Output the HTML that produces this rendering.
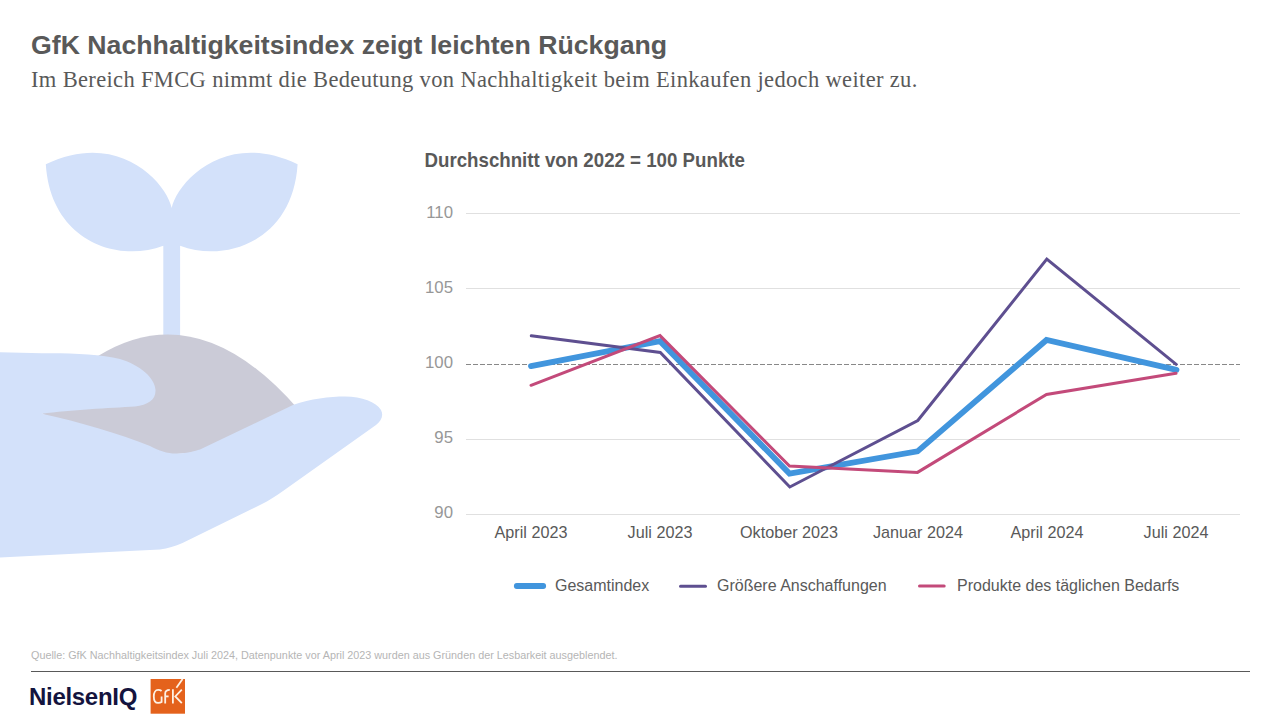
<!DOCTYPE html>
<html><head><meta charset="utf-8">
<style>
html,body{margin:0;padding:0;background:#fff;}
body{width:1280px;height:720px;position:relative;overflow:hidden;font-family:"Liberation Sans",sans-serif;}
.t{position:absolute;white-space:nowrap;line-height:1;}
#title{left:31px;top:32px;font-size:26.7px;font-weight:bold;color:#595959;}
#sub{left:31px;top:68.5px;font-size:22.5px;font-family:"Liberation Serif",serif;color:#595959;letter-spacing:0.345px;}
#ctitle{left:424.5px;top:150.5px;font-size:18.7px;transform-origin:0 0;transform:scaleY(1.06);font-weight:bold;color:#595959;}
.yl{position:absolute;font-size:16.8px;color:#979797;text-align:right;width:60px;line-height:1;}
.xl{position:absolute;font-size:16.2px;color:#595959;text-align:center;width:160px;line-height:1;}
.lg{position:absolute;font-size:16px;color:#595959;line-height:1;white-space:nowrap;}
#src{left:31px;top:650px;font-size:10.8px;color:#b5b5b5;}
</style></head>
<body>
<svg width="1280" height="720" style="position:absolute;left:0;top:0">
  <!-- plant -->
  <path fill="#d3e1fa" d="M45.8,164.2 C118.55,129.2 166.6,182.7 171.7,208 C176.8,182.7 224.85,129.2 297.6,164.2 C292.94,239.7 227.45,263.4 180.1,245.8 L180.1,340 L163.3,340 L163.3,245.8 C115.95,263.4 50.46,239.7 45.8,164.2 Z"/>
  <path d="M98,356 Q198,294.4 298,409 L200,452 L165,455 L42,414 Z" fill="#cbcbd7"/>
  <path fill="#d3e1fa" d="M0,352.3 L41.7,353.3 C70,353 100,354 120,359 C140,365 155,378 155.5,390 C156,400 148,405 135,406.5 C110,408 70,410 41.7,413.75 C80,422 120,434 150,446 C160,451 168,454 178,453.5 C188,453 195,451 200,449.5 L293.5,404.7 C310,399 330,396.5 345,396.5 C362,396.5 376,402 381,410 C384,416 381,421 376,425 L283,491 C276,496 268,501 262,504 L182.5,543 C175,546 168,548.5 160,549.5 L93.75,552.8 L0,557.5 Z"/>
  <!-- grid -->
  <g stroke="#e0e0e0" stroke-width="1">
    <line x1="466" y1="213.5" x2="1240" y2="213.5"/>
    <line x1="466" y1="288.5" x2="1240" y2="288.5"/>
    <line x1="466" y1="439.5" x2="1240" y2="439.5"/>
    <line x1="466" y1="514.5" x2="1240" y2="514.5"/>
  </g>
  <line x1="466" y1="364.5" x2="1240" y2="364.5" stroke="#888888" stroke-width="1" stroke-dasharray="5,2"/>
  <!-- series -->
  <polyline fill="none" stroke="#4195dd" stroke-width="5.8" stroke-linecap="round" stroke-linejoin="miter" points="531,366.1 660,341.1 789.5,473.6 917.5,451.4 1046.5,340 1176.5,369.9"/>
  <polyline fill="none" stroke="#5e4f90" stroke-width="3" stroke-linecap="round" points="531.3,335.8 660.3,352.5 789.8,487 917.8,420.5 1046.8,259 1176.2,364.3"/>
  <polyline fill="none" stroke="#c34a7a" stroke-width="3" stroke-linecap="round" points="531,385.3 660,335.6 789.5,466 917.5,472.4 1046.5,394.4 1176,373.3"/>
  <!-- legend lines -->
  <line x1="516.8" y1="586" x2="543.2" y2="586" stroke="#4195dd" stroke-width="5.8" stroke-linecap="round"/>
  <line x1="680.5" y1="586.3" x2="705.5" y2="586.3" stroke="#5e4f90" stroke-width="3" stroke-linecap="round"/>
  <line x1="919.5" y1="586" x2="944.2" y2="586" stroke="#c34a7a" stroke-width="3" stroke-linecap="round"/>
  <!-- footer line -->
  <line x1="31" y1="671.5" x2="1250" y2="671.5" stroke="#595959" stroke-width="1"/>
  <!-- GfK logo -->
  <rect x="150.6" y="679" width="34.4" height="34.7" fill="#e4621c"/>
  <g fill="none" stroke="#fdf1e4" stroke-width="1.8" stroke-linecap="butt">
    <path d="M161.6,691 C160.6,690.1 159.4,689.9 158.1,689.9 C155.5,689.9 153.8,692.8 153.8,696.4 C153.8,700.2 155.5,702.9 158.1,702.9 C159.6,702.9 160.9,702.5 161.6,702 L161.6,696.4"/>
    <path d="M165.2,703.6 L165.2,693.5 C165.2,691 166.8,689.9 169.8,689.9"/>
    <path d="M165.2,696.4 L168.6,696.4"/>
    <path d="M172.9,689.3 L172.9,703.6"/>
    <path d="M181.8,689.7 L175.3,696.4 L181.8,703.1"/>
    <path d="M182.6,679 L176.4,687.8"/>
  </g>
</svg>
<div id="title" class="t">GfK Nachhaltigkeitsindex zeigt leichten Rückgang</div>
<div id="sub" class="t">Im Bereich FMCG nimmt die Bedeutung von Nachhaltigkeit beim Einkaufen jedoch weiter zu.</div>
<div id="ctitle" class="t">Durchschnitt von 2022 = 100 Punkte</div>
<div class="yl" style="left:393px;top:205.2px">110</div>
<div class="yl" style="left:393px;top:280.2px">105</div>
<div class="yl" style="left:393px;top:355.2px">100</div>
<div class="yl" style="left:393px;top:430.2px">95</div>
<div class="yl" style="left:393px;top:505.2px">90</div>
<div class="xl" style="left:451px;top:524px">April 2023</div>
<div class="xl" style="left:580px;top:524px">Juli 2023</div>
<div class="xl" style="left:709px;top:524px">Oktober 2023</div>
<div class="xl" style="left:838px;top:524px">Januar 2024</div>
<div class="xl" style="left:967px;top:524px">April 2024</div>
<div class="xl" style="left:1096px;top:524px">Juli 2024</div>
<div class="lg" style="left:555px;top:578px">Gesamtindex</div>
<div class="lg" style="left:717px;top:578px">Größere Anschaffungen</div>
<div class="lg" style="left:957px;top:578px">Produkte des täglichen Bedarfs</div>
<div id="src" class="t">Quelle: GfK Nachhaltigkeitsindex Juli 2024, Datenpunkte vor April 2023 wurden aus Gründen der Lesbarkeit ausgeblendet.</div>
<div id="niq" class="t" style="left:29px;top:684.5px;font-size:24px;font-weight:bold;color:#14143e;letter-spacing:-0.3px">NielsenIQ</div>
</body></html>
